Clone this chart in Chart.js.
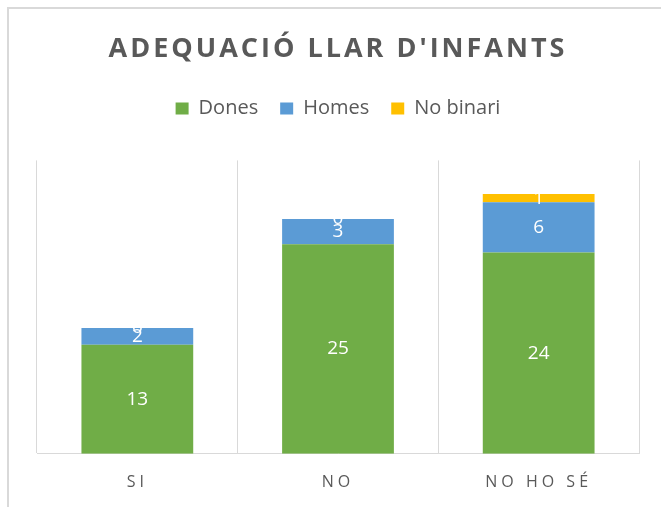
<!DOCTYPE html>
<html lang="ca">

<head>
  <meta charset="UTF-8">
  <title>Adequació llar d'infants</title>
  <script src="https://cdn.jsdelivr.net/npm/chart.js"></script>
  <style>
    body { margin: 0; background: #fff; }
    #marc { position: absolute; left: 7px; top: 7px; width: 700px; height: 600px;
            border-left: 2px solid #d9d9d9; border-top: 2px solid #d9d9d9; }
    #caixa { position: absolute; left: 0; top: 0; width: 661px; height: 507px; }
  </style>
</head>

<body>
  <div id="marc"></div>
  <div id="caixa"><canvas id="grafic"></canvas></div>

<script>
  // dades llegides del gràfic
  var categories = ['SI', 'NO', 'NO HO SÉ'];
  var dones = [13, 25, 24];
  var homes = [2, 3, 6];
  var noBinari = [0, 0, 1];

  var gris = '#595959';

  // espaiat de lletres per al títol i les etiquetes de l'eix
  function ambEspai(obj, nom, espai) {
    if (!obj || obj['_esp_' + nom]) return;
    var original = obj[nom];
    obj[nom] = function () {
      var ctx = this.ctx;
      var abans = ctx.letterSpacing;
      ctx.letterSpacing = espai;
      original.apply(this, arguments);
      ctx.letterSpacing = abans || '0px';
    };
    obj['_esp_' + nom] = true;
  }

  var pluginEspai = {
    id: 'espai',
    beforeInit: function (chart) {
      // més aire sota la llegenda
      var fitOriginal = chart.legend.fit;
      chart.legend.fit = function () {
        fitOriginal.apply(this, arguments);
        this.height += 32;
      };
    },
    beforeDraw: function (chart) {
      ambEspai(chart.titleBlock, 'draw', '3px');
      ambEspai(chart.scales.x, 'drawLabels', '4px');
    }
  };

  // etiquetes blanques al mig de cada tram
  var pluginValors = {
    id: 'valors',
    afterDatasetsDraw: function (chart) {
      var ctx = chart.ctx;
      ctx.save();
      ctx.fillStyle = '#ffffff';
      ctx.font = '19px "Open Sans"';
      ctx.textAlign = 'center';
      ctx.textBaseline = 'middle';
      chart.data.datasets.forEach(function (ds, i) {
        var meta = chart.getDatasetMeta(i);
        meta.data.forEach(function (bar, j) {
          var y = (bar.y + bar.base) / 2;
          ctx.fillText(ds.data[j], bar.x, y);
        });
      });
      ctx.restore();
    }
  };

  var ctx = document.getElementById('grafic').getContext('2d');
  var grafic = new Chart(ctx, {
    type: 'bar',
    data: {
      labels: categories,
      datasets: [
        { label: 'Dones', data: dones, backgroundColor: '#70ad47' },
        { label: 'Homes', data: homes, backgroundColor: '#5b9bd5' },
        { label: 'No binari', data: noBinari, backgroundColor: '#ffc000' }
      ]
    },
    options: {
      responsive: true,
      maintainAspectRatio: false,
      animation: false,
      layout: { padding: { left: 37, right: 22, top: 0, bottom: -4 } },
      datasets: {
        bar: { barPercentage: 0.557, categoryPercentage: 1 }
      },
      plugins: {
        title: {
          display: true,
          text: "ADEQUACIÓ LLAR D'INFANTS",
          color: gris,
          font: { family: '"Open Sans"', size: 27, weight: 'bold' },
          padding: { top: 33, bottom: 11 }
        },
        legend: {
          labels: {
            color: gris,
            font: { family: '"Open Sans"', size: 20 },
            boxWidth: 13,
            boxHeight: 12,
            padding: 22
          }
        },
        tooltip: { enabled: false }
      },
      scales: {
        x: {
          stacked: true,
          grid: { color: '#d9d9d9', drawTicks: false },
          border: { color: '#d9d9d9' },
          ticks: { color: gris, font: { family: '"Open Sans"', size: 16 }, padding: 19 }
        },
        y: {
          stacked: true,
          display: false,
          min: 0,
          max: 35
        }
      }
    },
    plugins: [pluginEspai, pluginValors]
  });
  grafic.draw();
</script>
</body>

</html>
